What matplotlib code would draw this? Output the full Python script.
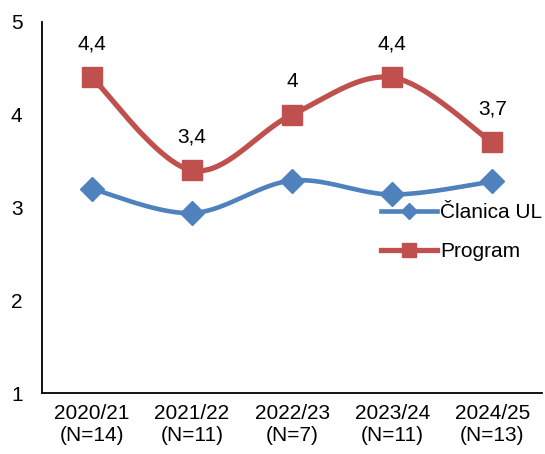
import matplotlib
matplotlib.use('Agg')
import matplotlib.pyplot as plt
import numpy as np

plt.rcParams['font.family'] = ['Liberation Sans', 'DejaVu Sans']

categories = ['2020/21\n(N=14)', '2021/22\n(N=11)', '2022/23\n(N=7)',
              '2023/24\n(N=11)', '2024/25\n(N=13)']
clanica = [3.2, 2.94, 3.29, 3.14, 3.28]
program = [4.4, 3.4, 4.0, 4.4, 3.7]
program_labels = ['4,4', '3,4', '4', '4,4', '3,7']


def smooth(xs, ys, n=40):
    # bezier through points, control points like excel smoothed line
    xs = np.asarray(xs, float)
    ys = np.asarray(ys, float)
    px = np.concatenate([[xs[0]], xs, [xs[-1]]])
    py = np.concatenate([[ys[0]], ys, [ys[-1]]])
    outx, outy = [], []
    t = np.linspace(0, 1, n)
    for i in range(1, len(xs)):
        p0 = np.array([px[i], py[i]])
        p3 = np.array([px[i + 1], py[i + 1]])
        c1 = p0 + (np.array([px[i + 1], py[i + 1]]) - np.array([px[i - 1], py[i - 1]])) / 6
        c2 = p3 - (np.array([px[i + 2], py[i + 2]]) - np.array([px[i], py[i]])) / 6
        seg = ((1 - t)[:, None] ** 3 * p0 + 3 * ((1 - t) ** 2 * t)[:, None] * c1
               + 3 * ((1 - t) * t ** 2)[:, None] * c2 + (t ** 3)[:, None] * p3)
        outx.extend(seg[:, 0])
        outy.extend(seg[:, 1])
    return outx, outy


blue = '#4F81BD'
red = '#C0504D'
x = np.arange(len(categories))

fig = plt.figure(figsize=(5.45, 4.54), dpi=100)
ax = fig.add_axes([0.077, 0.134, 0.918, 0.818])

sx, sy = smooth(x, clanica)
ax.plot(sx, sy, color=blue, lw=3.3, solid_capstyle='round')
ax.plot(x, clanica, ls='none', marker='D', ms=12.5, color=blue)
sx, sy = smooth(x, program)
ax.plot(sx, sy, color=red, lw=3.8, solid_capstyle='round')
ax.plot(x, program, ls='none', marker='s', ms=14.5, color=red)

for xi, yi, lab in zip(x, program, program_labels):
    ax.annotate(lab, (xi, yi), xytext=(0, 17), textcoords='offset points',
                ha='center', va='bottom', fontsize=15)

# legend handles
h1, = ax.plot([], [], color=blue, lw=3.3, marker='D', ms=8)
h2, = ax.plot([], [], color=red, lw=3.8, marker='s', ms=10)
ax.legend([h1, h2], ['Članica UL', 'Program'], loc='upper left',
          bbox_to_anchor=(0.657, 0.54), frameon=False, fontsize=15,
          handlelength=2.7, handletextpad=0.15, labelspacing=0.95, borderpad=0)

ax.set_xlim(-0.5, 4.5)
ax.set_ylim(1, 5)
ax.set_yticks([1, 2, 3, 4, 5])
ax.set_xticks(x)
ax.set_xticklabels(categories)
ax.tick_params(length=0, labelsize=15, pad=8)
ax.tick_params(axis='y', pad=14)
ax.spines['top'].set_visible(False)
ax.spines['right'].set_visible(False)
ax.spines['left'].set_linewidth(1.3)
ax.spines['bottom'].set_linewidth(1.3)

fig.savefig('out.png', dpi=100)
